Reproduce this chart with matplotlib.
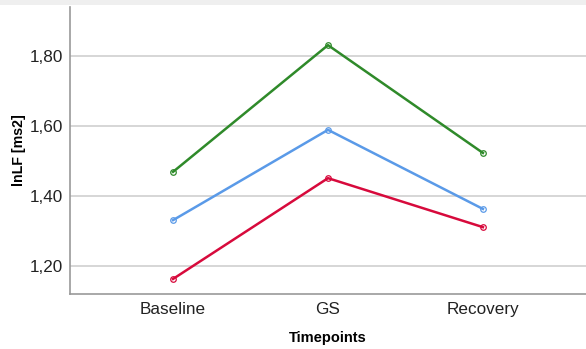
import matplotlib
matplotlib.use("Agg")
import matplotlib.pyplot as plt
from matplotlib.patches import Rectangle
from matplotlib.ticker import FuncFormatter

timepoints = ["Baseline", "GS", "Recovery"]
green_vals = [1.469, 1.831, 1.523]
blue_vals = [1.331, 1.589, 1.363]
red_vals = [1.163, 1.451, 1.311]
yticks = [1.20, 1.40, 1.60, 1.80]

plt.rcParams['font.family'] = ['Liberation Sans', 'DejaVu Sans']

fig = plt.figure(figsize=(5.86, 3.49), dpi=100)
# light band at the very top
fig.patches.append(Rectangle((0, 1 - 5/349), 1, 5/349, transform=fig.transFigure,
                             facecolor='#efefef', edgecolor='none'))
ax = fig.add_axes([70/586, 55/349, 516/586, 287/349])

x = list(range(len(timepoints)))
for vals, col in [(green_vals, '#2f8a2a'), (blue_vals, '#5a9ae8'), (red_vals, '#d70a3c')]:
    ax.plot(x, vals, color=col, lw=1.8, marker='o', ms=4, mfc='none', mew=0.9, zorder=3)

ax.set_xlim(-0.665, 2.665)
ax.set_ylim(1.12, 1.94)
ax.set_yticks(yticks)
ax.yaxis.set_major_formatter(FuncFormatter(lambda v, p: f"{v:.2f}".replace('.', ',')))
ax.set_xticks(x)
ax.set_xticklabels(timepoints)
ax.grid(axis='y', color='#d0d0d0', lw=1.2)
ax.set_axisbelow(True)
ax.tick_params(length=0, labelsize=12.3, colors='#222222')
ax.tick_params(axis='x', pad=6)
ax.tick_params(axis='y', pad=5)
for s in ['top', 'right']:
    ax.spines[s].set_visible(False)
for s in ['left', 'bottom']:
    ax.spines[s].set_color('#999999')
    ax.spines[s].set_linewidth(1.2)

ax.set_ylabel("lnLF [ms2]", fontsize=10.2, fontweight='bold')
ax.yaxis.set_label_coords(-0.086, 0.5)
ax.set_xlabel("Timepoints", fontsize=10.5, fontweight='bold')
ax.xaxis.set_label_coords(0.5, -0.13)

fig.savefig("out.png", dpi=100)
